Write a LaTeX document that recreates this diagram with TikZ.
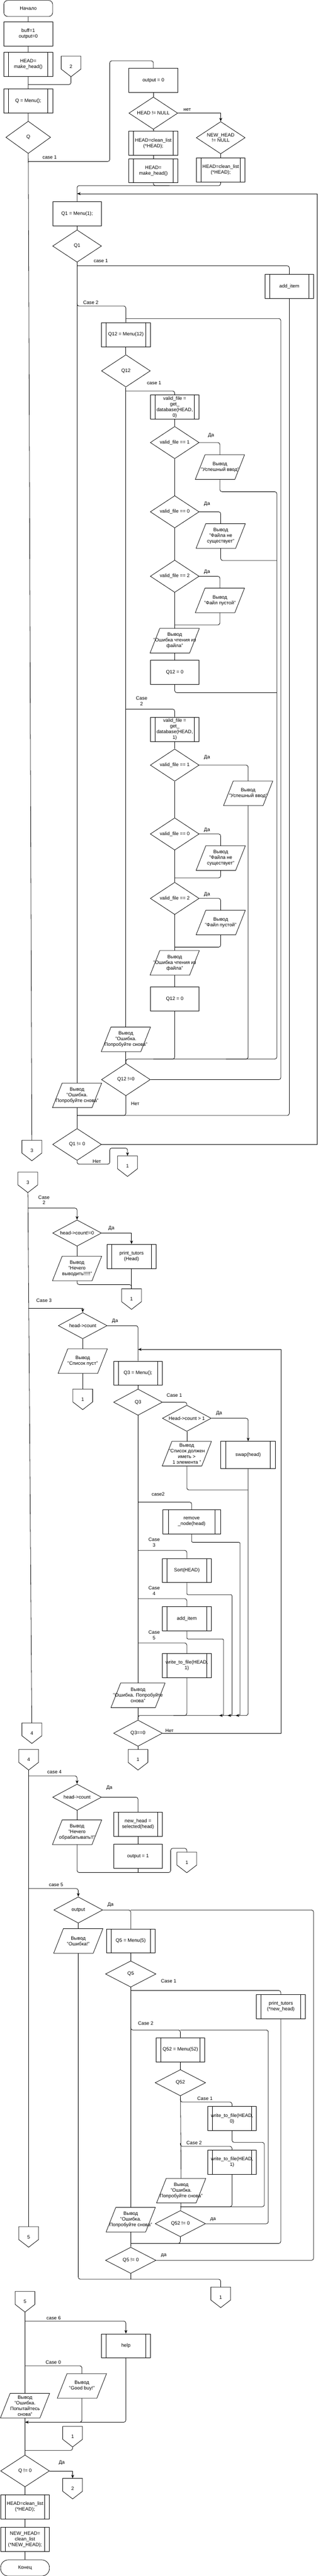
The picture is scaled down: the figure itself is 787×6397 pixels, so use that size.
\documentclass[tikz,border=0pt]{standalone}
\usepackage{fontspec}
\setmainfont{Liberation Sans}
\usetikzlibrary{shapes.geometric,arrows.meta,calc}

\tikzset{
    term node/.style={draw, rounded corners=10pt, minimum width=121pt, minimum height=40pt, inner sep=1pt},
    proc node/.style={draw, minimum width=121pt, minimum height=60pt, inner sep=1pt, align=center},
    sub node/.style={proc node,
        append after command={\pgfextra{
            \draw ($(\tikzlastnode.north west)!0.1!(\tikzlastnode.north east)$) -- ($(\tikzlastnode.south west)!0.1!(\tikzlastnode.south east)$)
                  ($(\tikzlastnode.north east)!0.1!(\tikzlastnode.north west)$) -- ($(\tikzlastnode.south east)!0.1!(\tikzlastnode.south west)$);}}},
    dec node/.style={draw, diamond, aspect=1.5, inner xsep=-15pt, inner ysep=0pt, minimum width=121pt, minimum height=80pt, align=center},
    io node/.style={minimum width=121pt, minimum height=60pt, inner sep=0pt, align=center,
        append after command={\pgfextra{
            \draw ([xshift=24pt]\tikzlastnode.north west) -- (\tikzlastnode.north east)
                  -- ([xshift=-24pt]\tikzlastnode.south east) -- (\tikzlastnode.south west) -- cycle;}}},
    conn node/.style={minimum width=48pt, minimum height=50pt, inner sep=0pt,
        append after command={\pgfextra{
            \draw (\tikzlastnode.north west) -- (\tikzlastnode.north east) -- ([yshift=19pt]\tikzlastnode.south east)
                  -- (\tikzlastnode.south) -- ([yshift=19pt]\tikzlastnode.south west) -- cycle;}}},
    txt node/.style={inner sep=0pt, align=center},
    wire/.style={rounded corners=5pt},
    pointed/.style={wire, -{Stealth[length=9pt, width=7pt]}},
    straight/.style={sharp corners}
    }

\begin{document}
\begin{tikzpicture}[x=1pt, y=-1pt, line width=1pt, font=\fontsize{12pt}{14pt}\selectfont]
\useasboundingbox (0,0) rectangle (787,6397);

\node(start)[term node] at (70,21) {Начало};
\node(init)[proc node] at (70,84) {buff=1\\output=0};
\node(mkhead)[sub node] at (70,160) {HEAD=\\make\_head()};
\node(c2in)[conn node] at (176,165) {2};
\node(menu)[sub node] at (70,251) {Q = Menu();};
\node(qdec)[dec node, minimum width=111pt] at (70,341) {Q};
\node(c3out)[conn node] at (79,2857) {3};
\node(out0)[proc node] at (380,200) {output = 0};
\node(hnull)[dec node] at (380,281) {HEAD != NULL};
\node(cl1)[sub node] at (380,356) {HEAD=clean\_list\\(*HEAD);};
\node(mk2)[sub node] at (380,424) {HEAD=\\make\_head()};
\node(nhnull)[dec node] at (547,342) {NEW\_HEAD\\!= NULL};
\node(cl2)[sub node] at (547,422) {HEAD=clean\_list\\(*HEAD);};
\node(q1menu)[proc node] at (191,531) {Q1 = Menu(1);};
\node(q1dec)[dec node] at (191,611) {Q1};
\node(additem)[sub node] at (717,711) {add\_item};
\node(q12menu)[sub node] at (312,831) {Q12 = Menu(12)};
\node(q12dec)[dec node] at (312,921) {Q12};
\node(gd0)[sub node] at (433,1011) {valid\_file =\\get\_\\database(HEAD,\\0)};
\node(vf1)[dec node] at (433,1099) {valid\_file == 1};
\node(ok1)[io node] at (545,1160) {Вывод\\"Успешный ввод"};
\node(vf0)[dec node] at (433,1271) {valid\_file == 0};
\node(nf1)[io node] at (547,1331) {Вывод\\"Файла не\\существует"};
\node(vf2)[dec node] at (433,1431) {valid\_file == 2};
\node(em1)[io node] at (545,1491) {Вывод\\"Файл пустой"};
\node(rd1)[io node] at (433,1591) {Вывод\\"Ошибка чтения из\\файла"};
\node(z1)[proc node] at (433,1670) {Q12 = 0};
\node(gd1)[sub node] at (433,1811) {valid\_file =\\get\_\\database(HEAD,\\1)};
\node(vf1b)[dec node] at (433,1900) {valid\_file == 1};
\node(ok2)[io node] at (615,1970) {Вывод\\"Успешный ввод"};
\node(vf0b)[dec node] at (433,2071) {valid\_file == 0};
\node(nf2)[io node] at (547,2131) {Вывод\\"Файла не\\существует"};
\node(vf2b)[dec node] at (433,2231) {valid\_file == 2};
\node(em2)[io node] at (547,2291) {Вывод\\"Файл пустой"};
\node(rd2)[io node] at (433,2391) {Вывод\\"Ошибка чтения из\\файла"};
\node(z2)[proc node] at (433,2481) {Q12 = 0};
\node(err12)[io node] at (312,2581) {Вывод\\"Ошибка.\\Попробуйте снова"};
\node(q12ne)[dec node] at (312,2681) {Q12 !=0};
\node(err1)[io node] at (191,2720) {Вывод\\"Ошибка.\\Попробуйте снова"};
\node(q1ne)[dec node, minimum height=79pt] at (191,2842) {Q1 != 0};
\node(c1a)[conn node] at (316,2896) {1};

\node(c3in)[conn node] at (69,2936) {3};
\node(c4out)[conn node] at (79,4304) {4};
\node(hc0)[dec node, minimum height=65pt] at (191,3062) {head->count!=0};
\node(pt1)[sub node] at (326,3120) {print\_tutors\\(Head)};
\node(nth)[io node] at (191,3150) {Вывод\\"Нечего\\выводить!!!!!"};
\node(c1b)[conn node] at (326,3226) {1};
\node(hc1)[dec node, minimum height=65pt] at (205,3292) {head->count};
\node(empty)[io node] at (205,3380) {Вывод\\"Список пуст"};
\node(c1c)[conn node] at (205,3475) {1};
\node(q3menu)[sub node] at (342,3410) {Q3 = Menu();};
\node(q3dec)[dec node, minimum height=65pt] at (342,3482) {Q3};
\node(hc2)[dec node, minimum height=65pt] at (463,3522) {Head->count > 1};
\node(swapb)[sub node, minimum width=136pt, minimum height=67pt] at (615,3613) {swap(head)};
\node(more1)[io node] at (463,3610) {Вывод\\"Список должен\\иметь >\\1 элемента "};
\node(rmv)[sub node, minimum width=144pt] at (475,3779) {remove\\\_node(head)};
\node(srt)[sub node] at (463,3900) {Sort(HEAD)};
\node(add2)[sub node] at (463,4020) {add\_item};
\node(wtf1)[sub node] at (463,4136) {write\_to\_file(HEAD,\\1)};
\node(err3)[io node, minimum width=133pt] at (342,4210) {Вывод\\"Ошибка. Попробуйте\\снова"};
\node(q3eq)[dec node, minimum height=65pt] at (342,4304) {Q3==0};
\node(c1d)[conn node] at (342,4370) {1};

\node(c4in)[conn node] at (71,4370) {4};
\node(c5out)[conn node] at (71,5555) {5};
\node(hc3)[dec node, minimum height=65pt] at (191,4463) {head->count};
\node(nth2)[io node] at (191,4550) {Вывод\\"Нечего\\обрабатывать!!"};
\node(sel)[sub node] at (342,4530) {new\_head =\\selected(head)};
\node(out1)[proc node] at (342,4610) {output = 1};
\node(c1e)[conn node] at (463,4625) {1};
\node(outd)[dec node, minimum height=65pt] at (194,4743) {output};
\node(err4)[io node] at (194,4820) {Вывод\\"Ошибка!"};
\node(q5menu)[sub node] at (324,4820) {Q5 = Menu(5)};
\node(q5dec)[dec node, minimum width=125pt, minimum height=65pt] at (324,4902) {Q5};
\node(ptn)[sub node] at (696,4983) {print\_tutors\\(*new\_head)};
\node(q52menu)[sub node] at (447,5090) {Q52 = Menu(52)};
\node(q52dec)[dec node, minimum width=125pt, minimum height=65pt] at (447,5172) {Q52};
\node(wtf2)[sub node] at (575,5261) {write\_to\_file(HEAD,\\0)};
\node(wtf3)[sub node] at (575,5369) {write\_to\_file(HEAD,\\1)};
\node(err5)[io node] at (449,5440) {Вывод\\"Ошибка.\\Попробуйте снова"};
\node(q52ne)[dec node, minimum width=125pt, minimum height=65pt] at (447,5522) {Q52 != 0};
\node(err6)[io node] at (324,5512) {Вывод\\"Ошибка.\\Попробуйте снова"};
\node(q5ne)[dec node, minimum width=125pt, minimum height=65pt] at (324,5613) {Q5 != 0};
\node(c1f)[conn node] at (547,5705) {1};

\node(c5in)[conn node] at (62,5716) {5};
\node(helpb)[sub node, minimum height=59pt] at (312,5825) {help};
\node(bye)[io node] at (203,5925) {Вывод\\"Good buy!"};
\node(err7)[io node] at (62,5974) {Вывод\\"Ошибка.\\Попытайтесь\\снова"};
\node(c1g)[conn node] at (180,6051) {1};
\node(qne)[dec node, minimum height=79pt] at (62,6136) {Q != 0};
\node(c2out)[conn node] at (180,6180) {2};
\node(fin1)[sub node] at (62,6225) {HEAD=clean\_list\\(*HEAD);};
\node(fin2)[sub node] at (62,6306) {NEW\_HEAD=\\clean\_list\\(*NEW\_HEAD);};
\node(endn)[term node, rounded corners=19pt] at (62,6377) {Конец};

\node(t1)[txt node] at (123,391) {case 1};
\node(t2)[txt node] at (464,272) {нет};
\node(t3)[txt node] at (250,648) {case 1};
\node(t4)[txt node] at (225,751) {Case 2};
\node(t5)[txt node] at (382,951) {case 1};
\node(t6)[txt node] at (523,1081) {Да};
\node(t7)[txt node] at (513,1251) {Да};
\node(t8)[txt node] at (513,1421) {Да};
\node(t9)[txt node] at (351,1741) {Case\\2};
\node(t10)[txt node] at (513,1881) {Да};
\node(t11)[txt node] at (513,2061) {Да};
\node(t12)[txt node] at (513,2221) {Да};
\node(t13)[txt node] at (335,2741) {Нет};
\node(t14)[txt node] at (240,2884) {Нет};
\node(t15)[txt node] at (109,2980) {Case\\2};
\node(t16)[txt node] at (276,3050) {Да};
\node(t17)[txt node] at (109,3230) {Case 3};
\node(t18)[txt node] at (285,3280) {Да};
\node(t19)[txt node] at (432,3465) {Case 1};
\node(t20)[txt node] at (543,3510) {Да};
\node(t21)[txt node] at (392,3710) {case2};
\node(t22)[txt node] at (382,3830) {Case\\3};
\node(t23)[txt node] at (382,3950) {Case\\4};
\node(t24)[txt node] at (382,4060) {Case\\5};
\node(t25)[txt node] at (420,4298) {Нет};
\node(t26)[txt node] at (135,4400) {case 4};
\node(t27)[txt node] at (271,4440) {Да};
\node(t28)[txt node] at (139,4680) {case 5};
\node(t29)[txt node] at (274,4730) {Да};
\node(t30)[txt node] at (418,4920) {Case 1};
\node(t31)[txt node] at (361,5024) {Case 2};
\node(t32)[txt node] at (508,5211) {Case 1};
\node(t33)[txt node] at (481,5321) {Case 2};
\node(t34)[txt node] at (528,5512) {да};
\node(t35)[txt node] at (406,5601) {да};
\node(t36)[txt node] at (133,5756) {case 6};
\node(t37)[txt node] at (132,5866) {Case 0};
\node(t38)[txt node] at (153,6116) {Да};

\coordinate (j1) at (70,210);
\coordinate (b1) at (70,401);
\coordinate (j2) at (420,461);
\coordinate (j10) at (191,481);
\coordinate (b2) at (191,660);
\coordinate (b3) at (191,752);
\coordinate (j4) at (312,791);
\coordinate (b4) at (312,971);
\coordinate (j5) at (686,1392);
\coordinate (j11) at (433,1552);
\coordinate (j6) at (686,1720);
\coordinate (b5) at (312,1761);
\coordinate (j12) at (433,2180);
\coordinate (j13) at (433,2352);
\coordinate (j8) at (380,2630);
\coordinate (j9) at (560,2630);
\coordinate (j3) at (191,2770);

\draw[wire] (start) -- (init) -- (mkhead) -- (menu) -- (qdec) -- (c3out);
\draw[wire] (c2in.south) |- (j1);
\draw[wire] (b1) -| (272,151) -| (out0.north);
\draw[wire] (out0) -- (hnull) -- (cl1) -- (mk2);
\draw[pointed, straight] (hnull.east) -| (nhnull.north);
\draw[wire] (nhnull) -- (cl2);
\draw[wire] (cl2.south) |- (191,461) -- (q1menu.north);
\draw[wire] (mk2.south) |- (j2);
\draw[pointed, straight] (q1ne.east) -| (786,481) -- (j10);
\draw[wire] (q1menu) -- (q1dec) -- (err1) -- (q1ne);
\draw[wire] (b2) -| (additem.north);
\draw[wire] (additem.south) |- (j3);
\draw[wire] (b3) |- (250,760) -| (q12menu.north);
\draw[wire] (q12ne.east) -| (696,791) -- (j4);
\draw[wire] (q12menu) -- (q12dec) -- (err12) -- (q12ne);
\draw[wire] (b4) -| (gd0.north);
\draw[wire] (gd0) -- (vf1) -- (vf0) -- (vf2) -- (rd1) -- (z1);
\draw[wire] (vf1.east) -| (ok1.north);
\draw[wire] (vf0.east) -| (nf1.north);
\draw[wire] (vf2.east) -| (em1.north);
\draw[wire] (ok1.south) |- (686,1221) -- (686,2630) -| (q12ne.north);
\draw[wire] (nf1.south) |- (j5);
\draw[wire] (em1.south) |- (j11);
\draw[wire] (z1.south) |- (j6);
\draw[wire] (b5) -| (gd1.north);
\draw[wire] (gd1) -- (vf1b) -- (vf0b) -- (vf2b) -- (rd2) -- (z2);
\draw[wire] (vf1b.east) -| (ok2.north);
\draw[wire] (vf0b.east) -| (nf2.north);
\draw[wire] (vf2b.east) -| (em2.north);
\draw[wire] (ok2.south) |- (j9);
\draw[wire] (nf2.south) |- (j12);
\draw[wire] (em2.south) |- (j13);
\draw[wire] (z2.south) |- (j8);
\draw[wire] (q12ne.south) |- (j3);
\draw[pointed] (q1ne.south) |- (272,2891) -- (272,2851) -| (c1a.north);

\coordinate (b6) at (69,3000);
\coordinate (b7) at (70,3249);
\coordinate (j14) at (342,3351);
\coordinate (j15) at (615,3700);
\coordinate (b8) at (342,3730);
\coordinate (b9) at (342,3850);
\coordinate (b10) at (342,3970);
\coordinate (b11) at (342,4080);
\coordinate (j16) at (584,4260);
\coordinate (j17) at (564,4260);
\coordinate (j18) at (543,4260);
\coordinate (j19) at (430,4260);

\draw[wire] (c3in) -- (c4out);
\draw[pointed] (b6) -| (hc0.north);
\draw[pointed, straight] (hc0.east) -| (pt1.north);
\draw[wire] (hc0) -- (nth);
\draw[wire] (nth.south) |- (260,3190) -| (c1b.north);
\draw[wire] (pt1) -- (c1b);
\draw[pointed, straight] (b7) -| (hc1.north);
\draw[wire] (hc1.east) -| (q3menu.north);
\draw[wire] (hc1) -- (empty) -- (c1c);
\draw[pointed, straight] (q3eq.east) -| (696,3351) -- (j14);
\draw[wire] (q3menu) -- (q3dec) -- (err3) -- (q3eq) -- (c1d);
\draw[wire] (q3dec.east) -| (hc2.north);
\draw[pointed] (hc2.east) -| (swapb.north);
\draw[wire] (hc2) -- (more1);
\draw[wire] (more1.south) |- (j15);
\draw[wire] (swapb.south) |- (500,4260) -| (q3eq.north);
\draw[wire] (b8) -| (rmv.north);
\draw[pointed, rounded corners=3pt] (rmv.south) |- (595,3830) |- (j16);
\draw[wire] (b9) -| (srt.north);
\draw[pointed, rounded corners=3pt] (srt.south) |- (575,3960) |- (j17);
\draw[wire] (b10) -| (add2.north);
\draw[pointed, rounded corners=3pt] (add2.south) |- (554,4070) |- (j18);
\draw[wire] (b11) -| (wtf1.north);
\draw[wire] (wtf1.south) |- (j19);

\coordinate (b12) at (71,4410);
\coordinate (j20) at (342,4650);
\coordinate (b13) at (71,4690);
\coordinate (j21) at (324,4743);
\coordinate (b14) at (324,4943);
\coordinate (b15) at (324,5033);
\coordinate (j22) at (447,5041);
\coordinate (b16) at (447,5212);
\coordinate (b17) at (447,5322);
\coordinate (j23) at (447,5480);
\coordinate (j24) at (324,5571);
\coordinate (j25) at (324,5660);

\draw[wire] (c4in) -- (c5out);
\draw[pointed] (b12) -| (hc3.north);
\draw[wire] (hc3.east) -| (sel.north);
\draw[wire] (hc3) -- (nth2);
\draw[wire] (sel) -- (out1) -- (j20);
\draw[wire] (nth2.south) |- (423,4650) -- (423,4590) -| (c1e.north);
\draw[pointed] (b13) -| (outd.north);
\draw[wire] (outd.east) -| (q5menu.north);
\draw[wire] (outd) -- (err4);
\draw[wire] (err4.south) |- (400,5660) -| (c1f.north);
\draw[wire] (q5menu) -- (q5dec) -- (err6) -- (q5ne) -- (j25);
\draw[wire] (q5ne.east) -| (777,4743) -- (j21);
\draw[wire] (b14) -| (ptn.north);
\draw[wire] (ptn.south) |- (j24);
\draw[wire] (b15) |- (400,5041) -| (q52menu.north);
\draw[wire] (q52ne.east) -| (665,5041) -- (j22);
\draw[wire] (q52menu) -- (q52dec) -- (err5) -- (q52ne);
\draw[wire] (b16) |- (520,5220) -| (wtf2.north);
\draw[wire] (wtf2.south) |- (655,5320) |- (j23);
\draw[wire] (b17) |- (520,5330) -| (wtf3.north);
\draw[wire] (wtf3.south) |- (j23);
\draw[wire] (q52ne.south) |- (j24);

\coordinate (b18) at (62,5764);
\coordinate (b19) at (62,5875);
\coordinate (j26) at (62,6015);
\coordinate (j27) at (150,6015);
\coordinate (j28) at (62,6085);

\draw[wire] (c5in) -- (err7) -- (qne) -- (fin1) -- (fin2) -- (endn);
\draw[pointed] (b18) -| (helpb.north);
\draw[wire] (b19) -| (bye.north);
\draw[pointed] (helpb.south) |- (j26);
\draw[wire] (bye.south) |- (j27);
\draw[wire] (c1g.south) |- (j28);
\draw[pointed, straight] (qne.east) -| (c2out.north);
\end{tikzpicture}
\end{document}
